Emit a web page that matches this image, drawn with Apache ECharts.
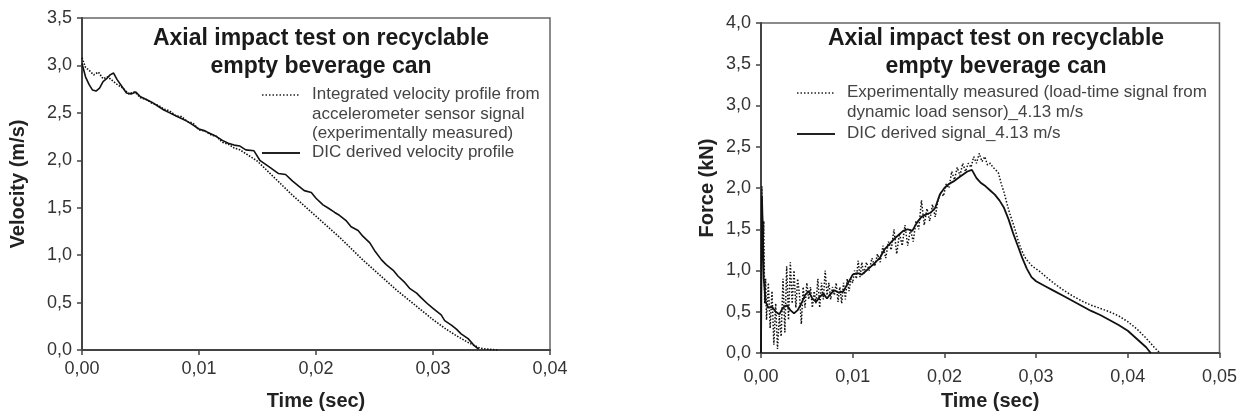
<!DOCTYPE html>
<html lang="en">
<head>
  <meta charset="UTF-8">
  <title>Axial impact test</title>
  <script src="https://cdn.jsdelivr.net/npm/echarts@6/dist/echarts.min.js"></script>
  <style>
    html, body { margin: 0; padding: 0; background: #fff; }
    #chart { width: 1240px; height: 416px; }
  </style>
</head>
<body>
  <div id="chart"></div>
  <script>
    // left chart: velocity (m/s) vs time (s)
    var velAccT = [0, 0.0003, 0.0006, 0.001, 0.0014, 0.0018, 0.0022, 0.0026, 0.003, 0.0035, 0.004, 0.0045, 0.005, 0.0055, 0.006, 0.0065, 0.007, 0.0075, 0.008, 0.0085, 0.009, 0.0095, 0.010, 0.0105, 0.011, 0.0115, 0.012, 0.0125, 0.013, 0.0135, 0.014, 0.0145, 0.015, 0.016, 0.017, 0.018, 0.019, 0.020, 0.021, 0.022, 0.023, 0.024, 0.025, 0.026, 0.027, 0.028, 0.029, 0.030, 0.031, 0.032, 0.033, 0.0335, 0.034, 0.0345, 0.035, 0.0355];
    var velAccV = [3.08, 2.98, 2.95, 2.90, 2.93, 2.86, 2.88, 2.84, 2.80, 2.76, 2.70, 2.72, 2.66, 2.64, 2.60, 2.58, 2.54, 2.52, 2.47, 2.46, 2.41, 2.39, 2.32, 2.31, 2.27, 2.25, 2.19, 2.17, 2.13, 2.11, 2.07, 2.03, 1.99, 1.87, 1.75, 1.63, 1.52, 1.41, 1.30, 1.19, 1.07, 0.95, 0.84, 0.73, 0.62, 0.52, 0.42, 0.32, 0.23, 0.15, 0.08, 0.05, 0.02, 0.01, 0.005, 0];
    var velDicT = [0, 0.0003, 0.0006, 0.0009, 0.0012, 0.0015, 0.0018, 0.0021, 0.0024, 0.0027, 0.003, 0.0034, 0.0038, 0.0042, 0.0046, 0.005, 0.0055, 0.006, 0.0065, 0.007, 0.0075, 0.008, 0.0085, 0.009, 0.0095, 0.010, 0.0105, 0.011, 0.0115, 0.012, 0.0125, 0.013, 0.0135, 0.014, 0.0147, 0.0152, 0.016, 0.0168, 0.0174, 0.018, 0.0186, 0.019, 0.0196, 0.020, 0.0206, 0.021, 0.0216, 0.022, 0.0226, 0.023, 0.0236, 0.024, 0.0246, 0.025, 0.0256, 0.026, 0.0266, 0.027, 0.0276, 0.028, 0.0286, 0.029, 0.0296, 0.030, 0.0307, 0.031, 0.0316, 0.032, 0.0324, 0.033, 0.0335, 0.0339];
    var velDicV = [3.02, 2.88, 2.80, 2.74, 2.73, 2.76, 2.83, 2.86, 2.90, 2.92, 2.85, 2.78, 2.71, 2.70, 2.72, 2.67, 2.64, 2.61, 2.57, 2.53, 2.50, 2.47, 2.44, 2.41, 2.37, 2.33, 2.31, 2.28, 2.25, 2.21, 2.18, 2.16, 2.15, 2.11, 2.10, 2.00, 1.93, 1.86, 1.85, 1.78, 1.72, 1.68, 1.66, 1.60, 1.53, 1.50, 1.45, 1.42, 1.36, 1.30, 1.26, 1.20, 1.13, 1.05, 0.95, 0.90, 0.84, 0.78, 0.71, 0.65, 0.60, 0.55, 0.48, 0.44, 0.37, 0.31, 0.26, 0.22, 0.17, 0.12, 0.05, 0.01];

    // right chart: force (kN) vs time (s)
    var forceExpT = [0, 0.0001, 0.0002, 0.0003, 0.0004, 0.0005, 0.0006, 0.0008, 0.0010, 0.0012, 0.0014, 0.0016, 0.0018, 0.0020, 0.0022, 0.0024, 0.0026, 0.0028, 0.0030, 0.0032, 0.0034, 0.0036, 0.0038, 0.0040, 0.0042, 0.0044, 0.0046, 0.0048, 0.0050, 0.0052, 0.0054, 0.0056, 0.0058, 0.0060, 0.0062, 0.0064, 0.0066, 0.0068, 0.0070, 0.0072, 0.0074, 0.0076, 0.0078, 0.0080, 0.0082, 0.0084, 0.0086, 0.0088, 0.0090, 0.0092, 0.0094, 0.0096, 0.0098, 0.0100, 0.0102, 0.0104, 0.0106, 0.0108, 0.0110, 0.0112, 0.0115, 0.0118, 0.0121, 0.0124, 0.0127, 0.0130, 0.0133, 0.0136, 0.0139, 0.0142, 0.0145, 0.0148, 0.0151, 0.0154, 0.0157, 0.0160, 0.0163, 0.0166, 0.0169, 0.0172, 0.0175, 0.0178, 0.0181, 0.0184, 0.0187, 0.0190, 0.0193, 0.0196, 0.0199, 0.0202, 0.0205, 0.0208, 0.0211, 0.0214, 0.0217, 0.0220, 0.0223, 0.0226, 0.0229, 0.0232, 0.0235, 0.0238, 0.0241, 0.0244, 0.0247, 0.0250, 0.0253, 0.0256, 0.0259, 0.0262, 0.0265, 0.0268, 0.0271, 0.0274, 0.0277, 0.0280, 0.0283, 0.0286, 0.0289, 0.0292, 0.0296, 0.0300, 0.0305, 0.0310, 0.0320, 0.0330, 0.0340, 0.0350, 0.0360, 0.0370, 0.0380, 0.0390, 0.0400, 0.0410, 0.0420, 0.0428, 0.0435];
    var forceExpV = [0.5, 2.02, 1.2, 1.6, 0.6, 0.9, 0.4, 0.85, 0.3, 0.75, 0.1, 0.6, 0.05, 0.45, 0.2, 0.9, 0.25, 1.05, 0.4, 1.1, 0.6, 1.0, 0.55, 0.9, 0.7, 0.35, 0.8, 0.55, 0.85, 0.65, 0.8, 0.55, 0.75, 0.6, 0.9, 0.55, 0.85, 0.65, 1.0, 0.7, 0.85, 0.65, 0.8, 0.7, 0.85, 0.62, 0.8, 0.6, 0.85, 0.65, 0.9, 0.75, 0.9, 0.85, 1.0, 0.9, 1.12, 0.92, 1.1, 0.95, 1.1, 1.0, 1.15, 1.05, 1.2, 1.1, 1.3, 1.15, 1.35, 1.25, 1.5, 1.2, 1.45, 1.3, 1.55, 1.3, 1.5, 1.35, 1.6, 1.5, 1.85, 1.55, 1.75, 1.6, 1.8, 1.65, 1.85, 1.95, 1.9, 2.05, 2.0, 2.2, 2.1, 2.25, 2.15, 2.3, 2.2, 2.3, 2.25, 2.38, 2.3, 2.42, 2.32, 2.38, 2.28, 2.3, 2.25, 2.22, 2.18, 2.05, 1.95, 1.82, 1.7, 1.6, 1.5, 1.38, 1.28, 1.2, 1.14, 1.1, 1.05, 1.02, 0.98, 0.93, 0.84, 0.76, 0.69, 0.63, 0.58, 0.54, 0.50, 0.45, 0.38, 0.29, 0.18, 0.08, 0.0];
    var forceDicT = [0, 0.0001, 0.0002, 0.0003, 0.0005, 0.0008, 0.0012, 0.0016, 0.0020, 0.0024, 0.0028, 0.0032, 0.0036, 0.0040, 0.0044, 0.0048, 0.0052, 0.0056, 0.0060, 0.0064, 0.0068, 0.0072, 0.0076, 0.0080, 0.0085, 0.0090, 0.0095, 0.0100, 0.0105, 0.0110, 0.0115, 0.0120, 0.0125, 0.0130, 0.0135, 0.0140, 0.0145, 0.0150, 0.0155, 0.0160, 0.0165, 0.0170, 0.0175, 0.0180, 0.0185, 0.0190, 0.0195, 0.0200, 0.0205, 0.0210, 0.0215, 0.0220, 0.0225, 0.0230, 0.0235, 0.0240, 0.0245, 0.0250, 0.0255, 0.0260, 0.0265, 0.0270, 0.0275, 0.0280, 0.0285, 0.0290, 0.0295, 0.0300, 0.0305, 0.0310, 0.0320, 0.0330, 0.0340, 0.0350, 0.0360, 0.0370, 0.0380, 0.0390, 0.0400, 0.0410, 0.0420, 0.0425];
    var forceDicV = [0, 1.90, 1.50, 0.90, 0.62, 0.55, 0.56, 0.50, 0.47, 0.55, 0.58, 0.52, 0.48, 0.52, 0.60, 0.70, 0.75, 0.66, 0.62, 0.68, 0.72, 0.66, 0.72, 0.76, 0.73, 0.75, 0.85, 0.95, 0.97, 0.95, 1.00, 1.05, 1.10, 1.16, 1.26, 1.32, 1.38, 1.43, 1.48, 1.50, 1.48, 1.58, 1.65, 1.68, 1.70, 1.76, 1.92, 2.00, 2.05, 2.08, 2.12, 2.16, 2.20, 2.22, 2.12, 2.06, 2.02, 1.97, 1.92, 1.85, 1.76, 1.62, 1.45, 1.30, 1.15, 1.02, 0.92, 0.87, 0.84, 0.81, 0.75, 0.69, 0.63, 0.57, 0.51, 0.46, 0.40, 0.34, 0.27, 0.17, 0.07, 0.0];

    var chartTitle = 'Axial impact test on recyclable\nempty beverage can';
    var font = 'Liberation Sans, Arial, sans-serif';

    function pairs(t, v) {
      var out = [];
      for (var i = 0; i < t.length; i++) out.push([t[i], v[i]]);
      return out;
    }
    function comma(d) {
      return function (val) { return val.toFixed(d).replace('.', ','); };
    }

    function xAxisFor(grid, max, labelMargin, nameGap) {
      return {
        gridIndex: grid, type: 'value', min: 0, max: max, interval: 0.01,
        name: 'Time (sec)', nameLocation: 'middle', nameGap: nameGap,
        nameTextStyle: { fontFamily: font, fontSize: 20, fontWeight: 'bold', color: '#222' },
        axisLine: { lineStyle: { color: '#444', width: 2 } },
        axisTick: { show: true, length: 5, lineStyle: { color: '#444', width: 1.5 } },
        axisLabel: { formatter: comma(2), fontFamily: font, fontSize: 18, color: '#333', margin: labelMargin },
        splitLine: { show: false }
      };
    }
    function yAxisFor(grid, max, name, nameGap) {
      return {
        gridIndex: grid, type: 'value', min: 0, max: max, interval: 0.5,
        name: name, nameLocation: 'middle', nameGap: nameGap,
        nameTextStyle: { fontFamily: font, fontSize: 20, fontWeight: 'bold', color: '#222' },
        axisLine: { show: true, lineStyle: { color: '#444', width: 2 } },
        axisTick: { show: true, length: 5, lineStyle: { color: '#444', width: 1.5 } },
        axisLabel: { formatter: comma(1), fontFamily: font, fontSize: 18, color: '#333', margin: 10 },
        splitLine: { show: false }
      };
    }

    function legendItem(x, y, dotted, lines) {
      var items = [{
        type: 'line',
        shape: { x1: x, y1: y, x2: x + 38, y2: y },
        style: { stroke: '#222', lineWidth: dotted ? 1.5 : 2, lineDash: dotted ? [1.5, 2] : null }
      }];
      items.push({
        type: 'text', x: x + 50, y: y - 10,
        style: { text: lines, font: '17px ' + font, fill: '#444', lineHeight: 19.5 }
      });
      return items;
    }

    var chart = echarts.init(document.getElementById('chart'), null, { renderer: 'canvas' });

    var option = {
      animation: false,
      backgroundColor: '#fff',
      title: [
        { text: chartTitle, left: 316, top: 20, textAlign: 'center',
          textStyle: { fontFamily: font, fontSize: 23, fontWeight: 'bold', color: '#1a1a1a', lineHeight: 28 } },
        { text: chartTitle, left: 991, top: 20, textAlign: 'center',
          textStyle: { fontFamily: font, fontSize: 23, fontWeight: 'bold', color: '#1a1a1a', lineHeight: 28 } }
      ],
      grid: [
        { left: 82, top: 18, width: 468, height: 338, show: true, borderColor: '#666', borderWidth: 1.5 },
        { left: 761, top: 23, width: 461, height: 333, show: true, borderColor: '#666', borderWidth: 1.5 }
      ],
      xAxis: [xAxisFor(0, 0.04, 10, 41), xAxisFor(1, 0.05, 15, 38)],
      yAxis: [yAxisFor(0, 3.5, 'Velocity (m/s)', 54), yAxisFor(1, 4.0, 'Force (kN)', 44)],
      series: [
        { name: 'Integrated velocity profile', type: 'line', xAxisIndex: 0, yAxisIndex: 0,
          data: pairs(velAccT, velAccV), showSymbol: false,
          lineStyle: { color: '#111', width: 1.6, type: [1.5, 1.5] } },
        { name: 'DIC derived velocity profile', type: 'line', xAxisIndex: 0, yAxisIndex: 0,
          data: pairs(velDicT, velDicV), showSymbol: false,
          lineStyle: { color: '#111', width: 1.6 } },
        { name: 'Experimentally measured', type: 'line', xAxisIndex: 1, yAxisIndex: 1,
          data: pairs(forceExpT, forceExpV), showSymbol: false,
          lineStyle: { color: '#111', width: 1.5, type: [1.5, 1.8] } },
        { name: 'DIC derived signal', type: 'line', xAxisIndex: 1, yAxisIndex: 1,
          data: pairs(forceDicT, forceDicV), showSymbol: false,
          lineStyle: { color: '#111', width: 1.8 } }
      ],
      graphic: []
        .concat(legendItem(262, 95, true, 'Integrated velocity profile from\naccelerometer sensor signal\n(experimentally measured)'))
        .concat(legendItem(262, 153, false, 'DIC derived velocity profile'))
        .concat(legendItem(797, 93, true, 'Experimentally measured (load-time signal from\ndynamic load sensor)_4.13 m/s'))
        .concat(legendItem(797, 134, false, 'DIC derived signal_4.13 m/s'))
    };

    chart.setOption(option);
  </script>
</body>
</html>
